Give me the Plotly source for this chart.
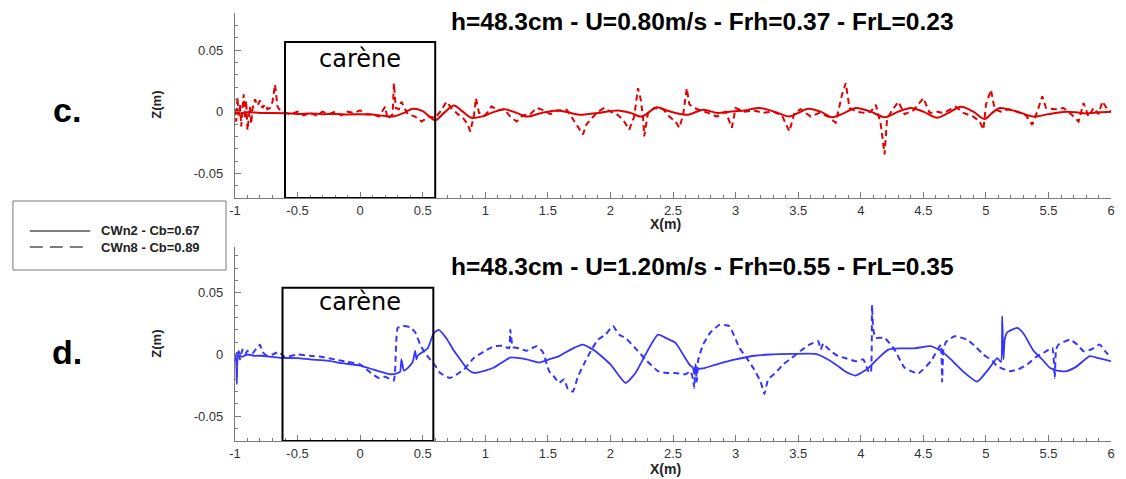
import plotly.graph_objects as go

# ---- free-surface profiles, h = 48.3 cm, U = 0.80 m/s ----
x_c_cwn2 = [
    -1.0, -0.95, -0.9, -0.8, -0.7, -0.6, -0.5, -0.4, -0.3, -0.2,
    -0.1, 0.0, 0.1, 0.15, 0.2, 0.25, 0.3, 0.35, 0.42, 0.5,
    0.6, 0.67, 0.75, 0.82, 0.89, 0.97, 1.05, 1.15, 1.25, 1.33,
    1.45, 1.57, 1.66, 1.75, 1.9, 2.06, 2.16, 2.25, 2.37, 2.45,
    2.52, 2.62, 2.74, 2.85, 2.95, 3.07, 3.19, 3.31, 3.43, 3.5,
    3.58, 3.68, 3.77, 3.87, 3.96, 4.08, 4.19, 4.3, 4.4, 4.5,
    4.61, 4.7, 4.8, 4.9, 4.99, 5.05, 5.11, 5.25, 5.38, 5.5,
    5.64, 5.72, 5.8, 5.9, 6.0,
]
z_c_cwn2 = [
    -0.001, -0.0015, -0.0005, -0.001, -0.001, -0.0012, -0.0018, -0.0015, -0.002, -0.0018,
    -0.0022, -0.002, -0.0022, -0.003, -0.0035, -0.004, -0.003, -0.001, 0.0024, 0.0005,
    -0.007, -0.001, 0.005, 0.0, -0.005, -0.004, -0.001, 0.002, -0.001, -0.004,
    -0.001, 0.001, -0.0005, -0.0025, -0.001, 0.001, -0.001, -0.004, 0.0035, 0.001,
    -0.001, -0.0025, 0.0016, -0.001, 0.0, 0.001, 0.003, 0.0, -0.004, -0.001,
    0.0024, 0.0, -0.0045, -0.001, 0.003, 0.0, -0.0045, 0.0, 0.003, 0.0,
    -0.005, -0.001, 0.004, 0.0, -0.006, -0.001, 0.003, 0.0, -0.004, -0.002,
    0.0, -0.0005, -0.0015, -0.0005, 0.0,
]
x_c_cwn8 = [
    -1.0, -0.99, -0.98, -0.97, -0.96, -0.95, -0.94, -0.93, -0.92, -0.91,
    -0.90, -0.89, -0.88, -0.87, -0.86, -0.84, -0.82, -0.80, -0.78, -0.76,
    -0.74, -0.72, -0.70, -0.68, -0.66, -0.64, -0.60, -0.55, -0.50, -0.45,
    -0.40, -0.35, -0.30, -0.25, -0.20, -0.15, -0.10, -0.05, 0.00, 0.05,
    0.10, 0.15, 0.20, 0.22, 0.26, 0.27, 0.285, 0.31, 0.33, 0.38,
    0.44, 0.49, 0.55, 0.60, 0.64, 0.69, 0.73, 0.78, 0.83, 0.86,
    0.88, 0.91, 0.925, 0.95, 1.00, 1.05, 1.10, 1.15, 1.20, 1.25,
    1.30, 1.36, 1.41, 1.47, 1.52, 1.58, 1.65, 1.70, 1.73, 1.78,
    1.81, 1.86, 1.90, 1.95, 2.00, 2.05, 2.10, 2.15, 2.19, 2.22,
    2.24, 2.26, 2.27, 2.30, 2.35, 2.42, 2.47, 2.52, 2.55, 2.58,
    2.61, 2.63, 2.67, 2.72, 2.78, 2.85, 2.92, 2.97, 3.00, 3.07,
    3.15, 3.22, 3.30, 3.37, 3.43, 3.47, 3.52, 3.60, 3.67, 3.74,
    3.80, 3.85, 3.88, 3.91, 3.97, 4.03, 4.08, 4.12, 4.16, 4.19,
    4.21, 4.25, 4.30, 4.35, 4.42, 4.50, 4.55, 4.61, 4.66, 4.72,
    4.76, 4.82, 4.90, 4.95, 4.98, 5.00, 5.04, 5.07, 5.12, 5.18,
    5.25, 5.32, 5.37, 5.41, 5.45, 5.48, 5.55, 5.62, 5.68, 5.74,
    5.78, 5.82, 5.86, 5.90, 5.93, 5.97, 6.00,
]
z_c_cwn8 = [
    0.002, -0.008, 0.012, -0.004, 0.006, -0.012, 0.003, 0.014, -0.006, 0.009,
    -0.015, -0.004, 0.004, -0.010, 0.002, 0.010, 0.005, 0.009, 0.003, 0.006,
    0.002, 0.003, 0.008, 0.022, 0.004, 0.001, -0.001, -0.002, 0.000, -0.003,
    -0.001, -0.003, 0.000, -0.002, 0.000, -0.003, 0.000, -0.001, 0.001, -0.002,
    -0.002, -0.004, 0.004, -0.006, -0.002, 0.023, 0.003, 0.002, 0.008, -0.002,
    -0.004, -0.008, -0.004, -0.005, 0.000, 0.008, 0.003, -0.002, -0.006, -0.0105,
    -0.016, -0.003, 0.011, -0.001, -0.003, 0.0043, 0.001, 0.002, -0.004, -0.008,
    -0.003, -0.002, 0.003, 0.001, -0.002, 0.001, 0.0016, -0.006, -0.0105, -0.0185,
    -0.010, -0.004, 0.000, 0.003, 0.000, -0.002, -0.0065, -0.0145, -0.004, 0.019,
    0.011, -0.004, -0.020, -0.001, 0.003, 0.002, -0.004, -0.008, -0.013, -0.003,
    0.019, 0.006, 0.003, 0.001, -0.001, -0.004, 0.000, -0.013, 0.003, 0.000,
    0.001, -0.001, 0.000, -0.003, -0.016, -0.001, 0.002, -0.004, -0.001, -0.004,
    -0.009, 0.0137, 0.023, 0.003, 0.000, -0.001, 0.000, 0.0056, -0.0105, -0.0347,
    -0.006, 0.001, 0.008, -0.002, 0.001, 0.011, -0.001, 0.000, -0.001, 0.002,
    0.004, -0.001, -0.004, -0.008, -0.0145, 0.0056, 0.0177, 0.002, 0.000, 0.002,
    0.000, -0.003, -0.0105, 0.000, 0.0124, 0.003, 0.002, 0.003, -0.002, -0.008,
    0.007, -0.004, 0.003, -0.002, 0.0083, 0.002, 0.000,
]

# ---- free-surface profiles, h = 48.3 cm, U = 1.20 m/s ----
x_d_cwn2 = [
    -1.0, -0.99, -0.985, -0.98, -0.97, -0.95, -0.9, -0.85, -0.79, -0.7,
    -0.63, -0.5, -0.4, -0.26, -0.15, 0.0, 0.1, 0.2, 0.25, 0.3,
    0.32, 0.33, 0.35, 0.38, 0.42, 0.44, 0.45, 0.46, 0.5, 0.54,
    0.59, 0.63, 0.69, 0.75, 0.8, 0.86, 0.91, 1.0, 1.07, 1.2,
    1.33, 1.43, 1.51, 1.59, 1.7, 1.78, 1.88, 2.0, 2.12, 2.2,
    2.28, 2.38, 2.45, 2.52, 2.58, 2.63, 2.66, 2.67, 2.68, 2.69,
    2.7, 2.75, 2.85, 3.0, 3.15, 3.27, 3.45, 3.64, 3.72, 3.8,
    3.88, 3.96, 4.06, 4.14, 4.22, 4.32, 4.43, 4.56, 4.64, 4.72,
    4.82, 4.93, 5.02, 5.09, 5.12, 5.13, 5.14, 5.15, 5.17, 5.25,
    5.3, 5.38, 5.45, 5.51, 5.57, 5.64, 5.72, 5.83, 5.9, 6.0,
]
z_d_cwn2 = [
    -0.001, -0.006, -0.024, -0.004, 0.003, -0.002, 0.0, -0.001, -0.001, -0.002,
    -0.0027, -0.003, -0.004, -0.005, -0.007, -0.009, -0.012, -0.015, -0.016, -0.015,
    -0.014, -0.004, -0.013, -0.011, -0.006, 0.003, -0.004, -0.001, 0.002, 0.005,
    0.0175, 0.020, 0.013, 0.003, -0.004, -0.012, -0.0148, -0.013, -0.0105, -0.0025,
    -0.004, -0.0065, -0.004, -0.0013, 0.005, 0.008, 0.0027, -0.008, -0.023, -0.015,
    0.0, 0.016, 0.013, 0.0094, 0.0, -0.008, -0.011, -0.016, -0.008, -0.015,
    -0.012, -0.011, -0.008, -0.004, -0.001, 0.0, 0.0005, 0.0005, -0.003, -0.008,
    -0.014, -0.017, -0.011, -0.003, 0.004, 0.005, 0.005, 0.0067, 0.003, -0.004,
    -0.014, -0.022, -0.012, -0.003, -0.006, 0.031, -0.004, 0.012, 0.018, 0.0215,
    0.017, 0.003, -0.004, -0.0107, -0.013, -0.0135, -0.01, -0.0013, -0.003, -0.0054,
]
x_d_cwn8 = [
    -1.0, -0.98, -0.96, -0.94, -0.92, -0.9, -0.86, -0.82, -0.8, -0.78,
    -0.74, -0.7, -0.65, -0.6, -0.5, -0.4, -0.3, -0.2, -0.1, 0.0,
    0.05, 0.1, 0.15, 0.2, 0.24, 0.27, 0.28, 0.3, 0.34, 0.4,
    0.44, 0.48, 0.52, 0.56, 0.6, 0.64, 0.72, 0.83, 0.91, 1.0,
    1.07, 1.14, 1.19, 1.2, 1.22, 1.27, 1.33, 1.37, 1.41, 1.46,
    1.51, 1.55, 1.59, 1.63, 1.66, 1.70, 1.74, 1.80, 1.85, 1.90,
    1.96, 2.02, 2.07, 2.12, 2.2, 2.28, 2.38, 2.45, 2.52, 2.6,
    2.64, 2.66, 2.67, 2.68, 2.69, 2.7, 2.74, 2.8, 2.87, 2.95,
    3.03, 3.09, 3.14, 3.2, 3.23, 3.26, 3.32, 3.38, 3.45, 3.52,
    3.59, 3.66, 3.68, 3.7, 3.72, 3.77, 3.82, 3.88, 3.96, 4.02,
    4.06, 4.08, 4.09, 4.1, 4.12, 4.19, 4.27, 4.35, 4.46, 4.56,
    4.62, 4.64, 4.65, 4.66, 4.68, 4.75, 4.85, 4.92, 4.98, 5.05,
    5.09, 5.19, 5.26, 5.33, 5.4, 5.46, 5.53, 5.55, 5.56, 5.58,
    5.67, 5.73, 5.78, 5.84, 5.91, 5.95, 6.0,
]
z_d_cwn8 = [
    -0.003, 0.002, -0.004, 0.004, 0.0, 0.003, 0.001, 0.006, 0.008, 0.002,
    -0.001, 0.0, 0.002, -0.002, 0.0, -0.001, -0.002, -0.004, -0.006, -0.008,
    -0.012, -0.016, -0.019, -0.018, -0.02, -0.021, -0.012, 0.0215, 0.023, 0.022,
    0.018, 0.008, 0.001, -0.004, -0.009, -0.015, -0.019, -0.012, -0.0027, 0.003,
    0.0067, 0.007, 0.005, 0.02, 0.006, 0.005, 0.003, 0.005, 0.0067, 0.002,
    -0.0135, -0.018, -0.023, -0.02, -0.028, -0.03, -0.018, -0.0054, 0.004, 0.012,
    0.016, 0.023, 0.016, 0.0135, 0.005, -0.004, -0.0135, -0.015, -0.015, -0.016,
    -0.0135, -0.02, -0.027, -0.01, -0.022, -0.005, 0.008, 0.018, 0.024, 0.023,
    0.0054, -0.003, -0.0108, -0.022, -0.032, -0.02, -0.0148, -0.008, -0.0027, 0.003,
    0.008, 0.0108, 0.004, 0.009, 0.0067, 0.002, -0.0013, -0.003, -0.0054, -0.004,
    -0.0135, -0.015, 0.04, 0.02, 0.0135, 0.0135, 0.004, -0.0108, -0.0153, -0.0054,
    0.005, 0.008, -0.022, 0.004, 0.01, 0.0148, 0.012, 0.006, 0.0, -0.005,
    -0.0094, -0.0135, -0.012, -0.0081, -0.002, 0.0013, 0.0054, -0.019, 0.004, 0.008,
    0.012, 0.008, 0.0027, 0.004, 0.008, 0.003, -0.0027,
]

# axis ticks
x_ticks = [-1, -0.5, 0, 0.5, 1, 1.5, 2, 2.5, 3, 3.5, 4, 4.5, 5, 5.5, 6]
x_tick_text = ["-1", "-0.5", "0", "0.5", "1", "1.5", "2", "2.5", "3", "3.5",
               "4", "4.5", "5", "5.5", "6"]
z_ticks = [-0.05, 0, 0.05]
z_tick_text = ["-0.05", "0", "0.05"]

# hull extent (carène) drawn on both panels
hull_c = (-0.6, 0.6, 0.0565)
hull_d = (-0.62, 0.585, 0.054)

titles = ["h=48.3cm - U=0.80m/s - Frh=0.37 - FrL=0.23",
          "h=48.3cm - U=1.20m/s - Frh=0.55 - FrL=0.35"]
legend_names = ["CWn2 - Cb=0.67", "CWn8 - Cb=0.89"]

RED = "#e00000"
BLUE = "#3535ff"
AXIS = "#7a7a7a"
W, H = 1126, 479


def px(p):
    return p / W


def py(p):
    return 1 - p / H


fig = go.Figure()
fig.add_trace(go.Scatter(x=x_c_cwn2, y=z_c_cwn2, mode="lines", xaxis="x", yaxis="y",
                         line=dict(color=RED, width=2, shape="spline", smoothing=0.8)))
fig.add_trace(go.Scatter(x=x_c_cwn8, y=z_c_cwn8, mode="lines", xaxis="x", yaxis="y",
                         line=dict(color=RED, width=2, dash="6px,4px")))
fig.add_trace(go.Scatter(x=x_d_cwn2, y=z_d_cwn2, mode="lines", xaxis="x2", yaxis="y2",
                         line=dict(color=BLUE, width=1.8, shape="spline", smoothing=0.5)))
fig.add_trace(go.Scatter(x=x_d_cwn8, y=z_d_cwn8, mode="lines", xaxis="x2", yaxis="y2",
                         line=dict(color=BLUE, width=2, dash="6px,4px", shape="spline",
                                   smoothing=0.4)))

tick_font = dict(family="Liberation Sans, Arial, sans-serif", size=13, color="#333333")


def xaxis_style(anchor):
    return dict(
        domain=[px(231), px(1115)], range=[-1, 6], anchor=anchor,
        showline=True, linecolor=AXIS, linewidth=1, showgrid=False, zeroline=False,
        ticks="inside", ticklen=6, tickcolor=AXIS, tickwidth=1,
        tickmode="array", tickvals=x_ticks, ticktext=x_tick_text, tickfont=tick_font,
        minor=dict(tickmode="linear", tick0=0, dtick=0.1, ticks="inside",
                   ticklen=3, tickcolor=AXIS, showgrid=False),
    )


def yaxis_style(anchor, dom, rng):
    return dict(
        domain=dom, range=rng, anchor=anchor,
        showline=True, linecolor=AXIS, linewidth=1, showgrid=False, zeroline=False,
        ticks="inside", ticklen=6, tickcolor=AXIS, tickwidth=1,
        tickmode="array", tickvals=z_ticks, ticktext=z_tick_text, tickfont=tick_font,
        ticklabelstandoff=8,
        minor=dict(tickmode="linear", tick0=0, dtick=0.01, ticks="inside",
                   ticklen=3, tickcolor=AXIS, showgrid=False),
    )


shapes = []
for (x0, x1, top), xr, yr, ybot in [(hull_c, "x", "y", -0.07), (hull_d, "x2", "y2", -0.07)]:
    shapes.append(dict(type="rect", xref=xr, yref=yr, x0=x0, x1=x1, y0=ybot, y1=top,
                       line=dict(color="black", width=2), layer="above"))

# legend frame and sample lines
shapes.append(dict(type="rect", xref="paper", yref="paper", x0=px(7), x1=px(222),
                   y0=py(270), y1=py(201), line=dict(color=AXIS, width=1)))
shapes.append(dict(type="line", xref="paper", yref="paper", x0=px(24), x1=px(85),
                   y0=py(231), y1=py(231), line=dict(color="#555555", width=1.5)))
shapes.append(dict(type="line", xref="paper", yref="paper", x0=px(24), x1=px(84),
                   y0=py(247), y1=py(247), line=dict(color="#555555", width=1.5, dash="13px,7px")))

bold = "Liberation Sans, Arial, sans-serif"


def label(text, x, y, size, color="black", family=bold, angle=0, xanchor="center"):
    return dict(text=text, x=px(x), y=py(y), xref="paper", yref="paper", showarrow=False,
                xanchor=xanchor, yanchor="middle", textangle=angle,
                font=dict(family=family, size=size, color=color))


annotations = []
for t, yc in zip(titles, [22, 266]):
    annotations.append(label(f"<b>{t}</b>", 703, yc, 24.5))
for lab, yc in zip(["c.", "d."], [110, 352]):
    annotations.append(label(f"<b>{lab}</b>", 62, yc, 34))
for yc in [105, 344]:
    annotations.append(label("<b>Z(m)</b>", 151, yc, 13, color="#222222", angle=-90))
for yc in [224, 469]:
    annotations.append(label("<b>X(m)</b>", 665, yc, 14, color="#222222"))
for xr, yr in [("x", "y"), ("x2", "y2")]:
    annotations.append(dict(text="carène", x=0, y=0.0425, xref=xr, yref=yr, showarrow=False,
                            xanchor="center", yanchor="middle",
                            font=dict(family="DejaVu Sans, sans-serif", size=24, color="black")))
for name, yc in zip(legend_names, [231, 247]):
    annotations.append(label(f"<b>{name}</b>", 94, yc, 13, color="#222222", xanchor="left"))

fig.update_layout(
    width=W, height=H, margin=dict(l=0, r=0, t=0, b=0),
    paper_bgcolor="white", plot_bgcolor="white", showlegend=False,
    xaxis=xaxis_style("y"),
    yaxis=yaxis_style("x", [py(198), py(13)], [-0.07, 0.08]),
    xaxis2=xaxis_style("y2"),
    yaxis2=yaxis_style("x2", [py(441), py(247)], [-0.07, 0.087]),
    shapes=shapes, annotations=annotations,
)

fig.write_html("out.html")
